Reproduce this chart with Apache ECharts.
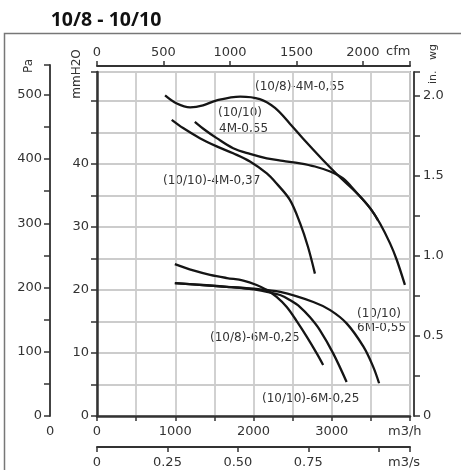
<!DOCTYPE html>
<html><head><meta charset="utf-8">
<script src="https://cdn.jsdelivr.net/npm/echarts@6/dist/echarts.min.js"></script>
<style>html,body{margin:0;padding:0;background:#fff}#c{width:461px;height:470px}</style>
</head><body><div id="c"></div>
<script>
// ---------- data (flow in m3/h, pressure in mmH2O) ----------
const chartTitle = '10/8 - 10/10';

const q_108_4M_055 = [870, 1020, 1190, 1355, 1530, 1830, 2080, 2275, 2465, 2635, 2890, 3105, 3320, 3490, 3615, 3745, 3830, 3935];
const p_108_4M_055 = [50.9, 49.6, 49.0, 49.3, 50.1, 50.7, 50.3, 48.9, 46.4, 44.0, 40.6, 37.9, 35.4, 33.0, 30.6, 27.4, 24.8, 20.8];

const q_1010_4M_055 = [1250, 1380, 1530, 1740, 1955, 2170, 2375, 2595, 2785, 2980, 3145, 3320, 3490, 3590];
const p_1010_4M_055 = [46.7, 45.4, 44.1, 42.5, 41.6, 40.9, 40.5, 40.1, 39.6, 38.8, 37.7, 35.4, 33.0, 31.1];

const q_1010_4M_037 = [955, 1100, 1315, 1530, 1740, 1955, 2170, 2295, 2465, 2595, 2695, 2785];
const p_1010_4M_037 = [47.0, 45.7, 44.1, 42.8, 41.7, 40.4, 38.5, 36.9, 34.3, 30.6, 26.9, 22.6];

const q_108_6M_025 = [995, 1230, 1445, 1660, 1870, 2040, 2170, 2295, 2425, 2550, 2680, 2810, 2890];
const p_108_6M_025 = [24.1, 23.1, 22.4, 21.9, 21.5, 20.8, 20.0, 18.9, 17.3, 15.1, 12.6, 9.9, 8.1];

const q_1010_6M_025 = [995, 1225, 1660, 2000, 2170, 2340, 2465, 2595, 2720, 2850, 3020, 3190];
const p_1010_6M_025 = [21.1, 20.9, 20.5, 20.1, 19.7, 19.2, 18.4, 17.3, 15.7, 13.6, 9.9, 5.4];

const q_1010_6M_055 = [995, 1225, 1660, 2000, 2340, 2765, 2980, 3190, 3405, 3530, 3605];
const p_1010_6M_055 = [21.1, 20.9, 20.5, 20.2, 19.7, 18.1, 16.8, 14.7, 11.0, 7.8, 5.2];

const curveLabels = ['(10/8)-4M-0,55', '(10/10)', '4M-0,55', '(10/10)-4M-0,37', '(10/8)-6M-0,25', '(10/10)', '6M-0,55', '(10/10)-6M-0,25'];

// axis ranges
const flowMaxM3h = 4000;
const mmMax = 54.6;
const M3H_PER_CFM = 1.69901;
const MM_PER_INWG = 25.4;
const PA_PER_MM = 9.80665;

// ---------- layout ----------
const plotL = 97, plotR = 410, plotT = 72, plotB = 416, W = 461, H = 470;
const paTop = 65;
const paMax = mmMax * (plotB - paTop) / (plotB - plotT) * PA_PER_MM;

const FONT = 'DejaVu Sans';
const lblStyle = {fontFamily: FONT, fontSize: 13, color: '#333'};
const dark = '#333';
const near = (v, m) => Math.abs(v / m - Math.round(v / m)) < 1e-6;

function pairs(q, p) { return q.map((x, i) => [x, p[i]]); }

const lineSeries = [
  [q_108_4M_055, p_108_4M_055],
  [q_1010_4M_055, p_1010_4M_055],
  [q_1010_4M_037, p_1010_4M_037],
  [q_108_6M_025, p_108_6M_025],
  [q_1010_6M_025, p_1010_6M_025],
  [q_1010_6M_055, p_1010_6M_055]
].map(([q, p]) => ({
  type: 'line', xAxisIndex: 0, yAxisIndex: 0, data: pairs(q, p),
  symbol: 'none', smooth: 0.35, silent: true, animation: false,
  lineStyle: {color: '#151515', width: 2.3}
}));

function txt(x, y, s, extra) {
  return Object.assign({type: 'text', x: x, y: y, style: Object.assign({text: s, fontFamily: FONT, fontSize: 12, fill: '#333', textVerticalAlign: 'middle'}, extra || {})});
}

const option = {
  animation: false,
  backgroundColor: '#fff',
  grid: [
    {left: plotL, right: W - plotR, top: plotT, bottom: H - plotB, show: true, borderColor: '#555', borderWidth: 1.5, outerBoundsMode: 'none'},
    {left: 50, right: W - plotR, top: paTop, bottom: H - plotB, show: false, outerBoundsMode: 'none'}
  ],
  xAxis: [
    { // m3/h
      gridIndex: 0, type: 'value', position: 'bottom', min: 0, max: flowMaxM3h, interval: 500,
      axisLine: {lineStyle: {color: dark, width: 2.5}},
      axisTick: {show: true, inside: false, length: 5, lineStyle: {color: dark, width: 1.5}},
      axisLabel: Object.assign({margin: 9, formatter: v => (near(v, 1000) && v < flowMaxM3h - 1) ? String(v) : ''}, lblStyle),
      splitLine: {show: true, lineStyle: {color: '#cccccc', width: 1.8}}
    },
    { // cfm on top
      gridIndex: 0, type: 'value', position: 'top', offset: 6, min: 0, max: flowMaxM3h / M3H_PER_CFM, interval: 500,
      axisLine: {onZero: false, lineStyle: {color: dark, width: 2}},
      axisTick: {show: true, inside: false, length: 5, lineStyle: {color: dark, width: 1.5}},
      axisLabel: Object.assign({margin: 7, formatter: v => near(v, 500) ? String(Math.round(v)) : ''}, lblStyle),
      splitLine: {show: false}
    },
    { // m3/s
      gridIndex: 0, type: 'value', position: 'bottom', offset: 31, min: 0, max: flowMaxM3h / 3600, interval: 0.25,
      axisLine: {onZero: false, lineStyle: {color: dark, width: 2}},
      axisTick: {show: true, inside: false, length: 5, lineStyle: {color: dark, width: 1.5}},
      axisLabel: Object.assign({margin: 9, formatter: v => (near(v, 0.25) && v < 0.9) ? (v === 0 ? '0' : v.toFixed(2)) : ''}, lblStyle),
      splitLine: {show: false}
    },
    {gridIndex: 1, type: 'value', show: false, min: 0, max: 1}
  ],
  yAxis: [
    { // mmH2O
      gridIndex: 0, type: 'value', position: 'left', min: 0, max: mmMax, interval: 5,
      axisLine: {onZero: false, lineStyle: {color: dark, width: 2.5}},
      axisTick: {show: true, inside: false, length: 6, lineStyle: {color: dark, width: 1.5}},
      axisLabel: Object.assign({margin: 8, formatter: v => (near(v, 10) && v < 45) ? String(v) : ''}, lblStyle),
      splitLine: {show: true, lineStyle: {color: '#cccccc', width: 1.8}}
    },
    { // in.wg
      gridIndex: 0, type: 'value', position: 'right', offset: 4, min: 0, max: mmMax / MM_PER_INWG, interval: 0.25,
      axisLine: {onZero: false, lineStyle: {color: '#444', width: 2}},
      axisTick: {show: true, inside: false, length: 6, lineStyle: {color: dark, width: 1.5}},
      axisLabel: Object.assign({margin: 9, formatter: v => near(v, 0.5) ? (v === 0 ? '0' : v.toFixed(1)) : ''}, lblStyle),
      splitLine: {show: false}
    },
    { // Pa
      gridIndex: 1, type: 'value', position: 'left', min: 0, max: paMax, interval: 50,
      axisLine: {onZero: false, lineStyle: {color: '#444', width: 2}},
      axisTick: {show: true, inside: false, length: 6, lineStyle: {color: dark, width: 1.5}},
      axisLabel: Object.assign({margin: 8, formatter: v => near(v, 100) ? String(Math.round(v)) : ''}, lblStyle),
      splitLine: {show: false}
    }
  ],
  series: lineSeries,
  graphic: [
    {type: 'rect', shape: {x: 4.5, y: 33.5, width: 520, height: 520}, style: {fill: 'none', stroke: '#777', lineWidth: 1.5}, silent: true},
    {type: 'text', x: 106, y: 20, style: {text: chartTitle, fontFamily: 'Open Sans', fontWeight: 'bold', fontSize: 19.5, fill: '#111', textAlign: 'center', textVerticalAlign: 'middle'}},
    {type: 'text', x: 29, y: 66, rotation: Math.PI / 2, style: {text: 'Pa', fontFamily: FONT, fontSize: 12, fill: '#333', textAlign: 'center', textVerticalAlign: 'middle'}},
    {type: 'text', x: 77, y: 74, rotation: Math.PI / 2, style: {text: 'mmH2O', fontFamily: FONT, fontSize: 12, fill: '#333', textAlign: 'center', textVerticalAlign: 'middle'}},
    {type: 'text', x: 433, y: 64, rotation: Math.PI / 2, style: {text: 'in.   wg', fontFamily: FONT, fontSize: 11, fill: '#333', textAlign: 'center', textVerticalAlign: 'middle'}},
    txt(386, 52, 'cfm', {fontSize: 13}),
    txt(388, 432, 'm3/h', {fontSize: 13}),
    txt(388, 463, 'm3/s', {fontSize: 13}),
    txt(46, 432, '0', {fontSize: 13}),
    txt(255, 87, curveLabels[0]),
    txt(218, 113, curveLabels[1]),
    txt(219, 129, curveLabels[2]),
    txt(163, 181, curveLabels[3]),
    txt(210, 338, curveLabels[4]),
    txt(357, 314, curveLabels[5]),
    txt(357, 328, curveLabels[6]),
    txt(262, 399, curveLabels[7])
  ]
};

const chart = echarts.init(document.getElementById('c'), null, {renderer: 'canvas'});
chart.setOption(option);
</script>
</body></html>
